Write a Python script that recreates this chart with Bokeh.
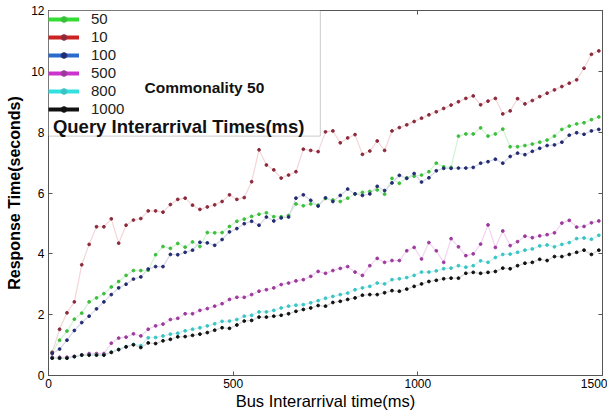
from bokeh.plotting import figure
from bokeh.models import (Range1d, LinearAxis, FixedTicker, Legend, LegendItem,
                          BoxAnnotation, Label)
from bokeh.embed import file_html
from bokeh.resources import INLINE

# Bus interarrival time (ms) sampling points
bus_ms = [10, 30, 50, 70, 90, 110, 130, 150, 170, 190, 210, 230, 250, 270, 290,
          310, 330, 350, 370, 390, 410, 430, 450, 470, 490, 510, 530, 550, 570, 590,
          610, 630, 650, 670, 690, 710, 730, 750, 770, 790, 810, 830, 850, 870, 890,
          910, 930, 950, 970, 990, 1010, 1030, 1050, 1070, 1090, 1110, 1130, 1150, 1170, 1190,
          1210, 1230, 1250, 1270, 1290, 1310, 1330, 1350, 1370, 1390, 1410, 1430, 1450, 1470, 1490]

# Response times (seconds) per query interarrival time (ms)
resp_50 = [0.76, 1.16, 1.46, 1.85, 2.05, 2.42, 2.55, 2.69, 2.91, 3.09, 3.29, 3.45, 3.45, 3.46, 3.97,
           4.24, 4.18, 4.34, 4.22, 4.39, 4.24, 4.70, 4.69, 4.70, 4.90, 5.07, 5.14, 5.23, 5.30, 5.35,
           5.22, 5.22, 5.26, 5.64, 5.58, 5.64, 5.60, 5.82, 5.77, 5.72, 5.83, 5.97, 6.02, 6.05, 6.10,
           5.96, 6.48, 6.32, 6.50, 6.55, 6.59, 6.70, 6.98, 6.86, 6.84, 7.87, 7.94, 7.94, 8.14, 7.87,
           7.94, 8.10, 7.52, 7.52, 7.56, 7.61, 7.67, 7.74, 7.87, 8.09, 8.20, 8.27, 8.31, 8.41, 8.50]
resp_10 = [0.76, 1.52, 2.06, 2.42, 3.64, 4.31, 4.89, 4.89, 5.15, 4.35, 4.94, 5.11, 5.16, 5.41, 5.41,
           5.37, 5.62, 5.79, 5.83, 5.60, 5.46, 5.54, 5.61, 5.72, 5.94, 5.79, 5.85, 6.37, 7.42, 6.92,
           6.76, 6.49, 6.59, 6.70, 7.44, 7.40, 7.36, 8.01, 8.04, 7.65, 7.81, 7.92, 7.27, 7.38, 7.71,
           7.40, 8.04, 8.15, 8.24, 8.35, 8.46, 8.57, 8.67, 8.78, 8.89, 9.00, 9.11, 9.19, 8.90, 9.02,
           9.11, 8.60, 8.70, 9.10, 8.93, 9.04, 9.17, 9.28, 9.39, 9.50, 9.61, 9.72, 10.10, 10.56, 10.67]
resp_100 = [0.72, 0.87, 1.16, 1.48, 1.74, 1.95, 2.19, 2.42, 2.66, 2.88, 3.00, 3.17, 3.24, 3.50, 3.58,
            3.58, 3.98, 3.97, 4.05, 4.12, 4.38, 4.36, 4.28, 4.47, 4.72, 4.83, 4.99, 5.07, 4.94, 5.21,
            5.08, 5.18, 5.21, 5.83, 5.94, 5.76, 5.57, 5.84, 5.72, 5.92, 6.13, 5.97, 5.92, 5.97, 6.22,
            6.08, 6.33, 6.58, 6.48, 6.64, 6.36, 6.50, 6.73, 6.81, 6.81, 6.82, 6.82, 6.84, 6.98, 7.03,
            7.11, 6.98, 7.20, 7.31, 7.26, 7.37, 7.47, 7.56, 7.58, 7.67, 7.90, 7.98, 7.93, 8.04, 8.09]
resp_500 = [0.60, 0.60, 0.60, 0.63, 0.68, 0.72, 0.72, 0.72, 1.06, 1.23, 1.26, 1.37, 1.30, 1.52, 1.63,
            1.69, 1.84, 1.88, 2.03, 2.03, 2.14, 2.20, 2.28, 2.36, 2.50, 2.57, 2.57, 2.66, 2.77, 2.82,
            2.88, 2.99, 3.04, 3.11, 3.15, 3.26, 3.42, 3.36, 3.45, 3.52, 3.58, 3.40, 3.29, 3.61, 3.85,
            3.72, 3.78, 3.78, 4.10, 4.21, 3.83, 4.37, 4.10, 3.72, 4.50, 4.23, 3.94, 4.00, 4.32, 4.95,
            4.21, 4.75, 4.27, 4.40, 4.58, 4.53, 4.59, 4.63, 4.69, 5.01, 5.10, 4.88, 4.90, 5.02, 5.08]
resp_800 = [0.57, 0.57, 0.57, 0.62, 0.67, 0.68, 0.68, 0.68, 0.77, 0.86, 0.95, 1.02, 0.98, 1.24, 1.25,
            1.30, 1.36, 1.39, 1.47, 1.52, 1.57, 1.63, 1.70, 1.78, 1.79, 1.84, 1.95, 1.98, 2.09, 2.09,
            2.14, 2.22, 2.28, 2.31, 2.33, 2.39, 2.46, 2.54, 2.60, 2.66, 2.71, 2.82, 2.88, 2.93, 3.04,
            3.01, 3.15, 3.18, 3.22, 3.29, 3.40, 3.40, 3.44, 3.51, 3.53, 3.61, 3.56, 3.61, 3.77, 3.72,
            3.88, 3.98, 3.99, 4.05, 4.12, 4.16, 4.26, 4.29, 4.23, 4.31, 4.37, 4.50, 4.52, 4.48, 4.61]
resp_1000 = [0.57, 0.57, 0.57, 0.62, 0.67, 0.67, 0.67, 0.67, 0.76, 0.85, 0.94, 1.01, 0.92, 1.07, 1.05,
             1.14, 1.19, 1.27, 1.28, 1.32, 1.36, 1.41, 1.49, 1.57, 1.55, 1.66, 1.79, 1.81, 1.92, 1.92,
             1.95, 1.98, 2.03, 2.11, 2.17, 2.22, 2.30, 2.28, 2.40, 2.44, 2.50, 2.55, 2.64, 2.66, 2.66,
             2.72, 2.79, 2.77, 2.84, 2.93, 3.01, 3.09, 3.13, 3.18, 3.20, 3.20, 3.36, 3.39, 3.36, 3.39,
             3.42, 3.53, 3.51, 3.61, 3.69, 3.72, 3.82, 3.78, 3.91, 3.91, 3.98, 4.05, 4.12, 3.98, 4.12]

series_names = ["50", "10", "100", "500", "800", "1000"]
x_ticks = [0, 500, 1000, 1500]
y_ticks = [0, 2, 4, 6, 8, 10, 12]

FONT = "Liberation Sans"
NAN = float("nan")

p = figure(width=607, height=412, x_range=Range1d(0, 1500), y_range=Range1d(0, 12),
           output_backend="svg", toolbar_location=None,
           min_border_left=48, min_border_right=5, min_border_top=10, min_border_bottom=36,
           x_axis_label="Bus Interarrival time(ms)",
           y_axis_label="Response Time(seconds)")
p.xgrid.visible = False
p.ygrid.visible = False
p.outline_line_color = "#555555"
p.background_fill_color = "white"
p.border_fill_color = "white"

p.xaxis.ticker = FixedTicker(ticks=x_ticks)
p.yaxis.ticker = FixedTicker(ticks=y_ticks)
for ax in (p.xaxis[0], p.yaxis[0]):
    ax.major_tick_in = 4
    ax.major_tick_out = 0
    ax.minor_tick_line_color = None
    ax.axis_line_color = "#555555"
    ax.major_tick_line_color = "#555555"
    ax.major_label_text_font = FONT
    ax.major_label_text_font_size = "12px"
    ax.major_label_text_color = "black"
    ax.axis_label_text_font = FONT
    ax.axis_label_text_font_style = "normal"
    ax.axis_label_text_color = "black"
    ax.major_label_standoff = 4
p.xaxis[0].major_label_standoff = 3
p.xaxis[0].axis_label_text_font_size = "16.5px"
p.xaxis[0].axis_label_standoff = 1
p.yaxis[0].axis_label_text_font_style = "bold"
p.yaxis[0].axis_label_text_font_size = "16px"
p.yaxis[0].axis_label_standoff = 5

right_ax = LinearAxis(ticker=FixedTicker(ticks=y_ticks), major_label_text_font_size="1px",
                      major_label_text_color=None,
                      major_tick_in=4, major_tick_out=0, minor_tick_line_color=None,
                      major_label_standoff=0, axis_line_color="#555555",
                      major_tick_line_color="#555555")
p.add_layout(right_ax, "right")
top_ax = LinearAxis(ticker=FixedTicker(ticks=x_ticks), major_label_text_font_size="1px",
                    major_label_text_color=None,
                    major_tick_in=4, major_tick_out=0, minor_tick_line_color=None,
                    major_label_standoff=0, axis_line_color="#555555",
                    major_tick_line_color="#555555")
p.add_layout(top_ax, "above")

data = [resp_50, resp_10, resp_100, resp_500, resp_800, resp_1000]
dot_colors = ["#3cbf3c", "#8c2a3c", "#232c72", "#9c3a9c", "#3cc4c4", "#111111"]
line_colors = ["#d2f2d2", "#f2d6d8", "#d6d8e6", "#f2d4f2", "#cff2f2", "#d8d8d8"]
legend_colors = ["#33dd33", "#cc2222", "#2a6acc", "#cc33cc", "#33e0e0", "#111111"]

for vals, lc in zip(data, line_colors):
    p.line(bus_ms, vals, line_color=lc, line_width=1.2)
for vals, dc in zip(data, dot_colors):
    p.scatter(bus_ms, vals, marker="circle", size=2.8, fill_color=dc, line_color=dc)

# legend panel
box = BoxAnnotation(left=0, right=736, bottom=7.87, top=12, fill_color="white", fill_alpha=1.0,
                    line_color="#555555", line_width=1)
p.add_layout(box)

items = []
for name, lc, dc in zip(series_names, legend_colors, dot_colors):
    r1 = p.line([NAN], [NAN], line_color=lc, line_width=4)
    r2 = p.scatter([NAN], [NAN], marker="circle", size=2.2, fill_color=dc, line_color=dc)
    items.append(LegendItem(label=name, renderers=[r1, r2]))

legend = Legend(items=items, location="top_left", margin=0, padding=4,
                glyph_width=31, glyph_height=14, label_height=14, spacing=1,
                label_standoff=12, label_text_font=FONT, label_text_font_size="15px",
                label_text_color="#222222", label_text_line_height=1.0,
                border_line_color=None, background_fill_alpha=0)
p.add_layout(legend)

p.add_layout(Label(x=260, y=9.46, text="Commonality 50", text_font=FONT,
                   text_font_size="15.5px", text_font_style="bold", text_baseline="middle",
                   text_color="#111111"))
p.add_layout(Label(x=12, y=8.18, text="Query Interarrival Times(ms)", text_font=FONT,
                   text_font_size="18.5px", text_font_style="bold", text_baseline="middle",
                   text_color="#111111"))

open("out.html", "w").write(file_html(p, INLINE))
